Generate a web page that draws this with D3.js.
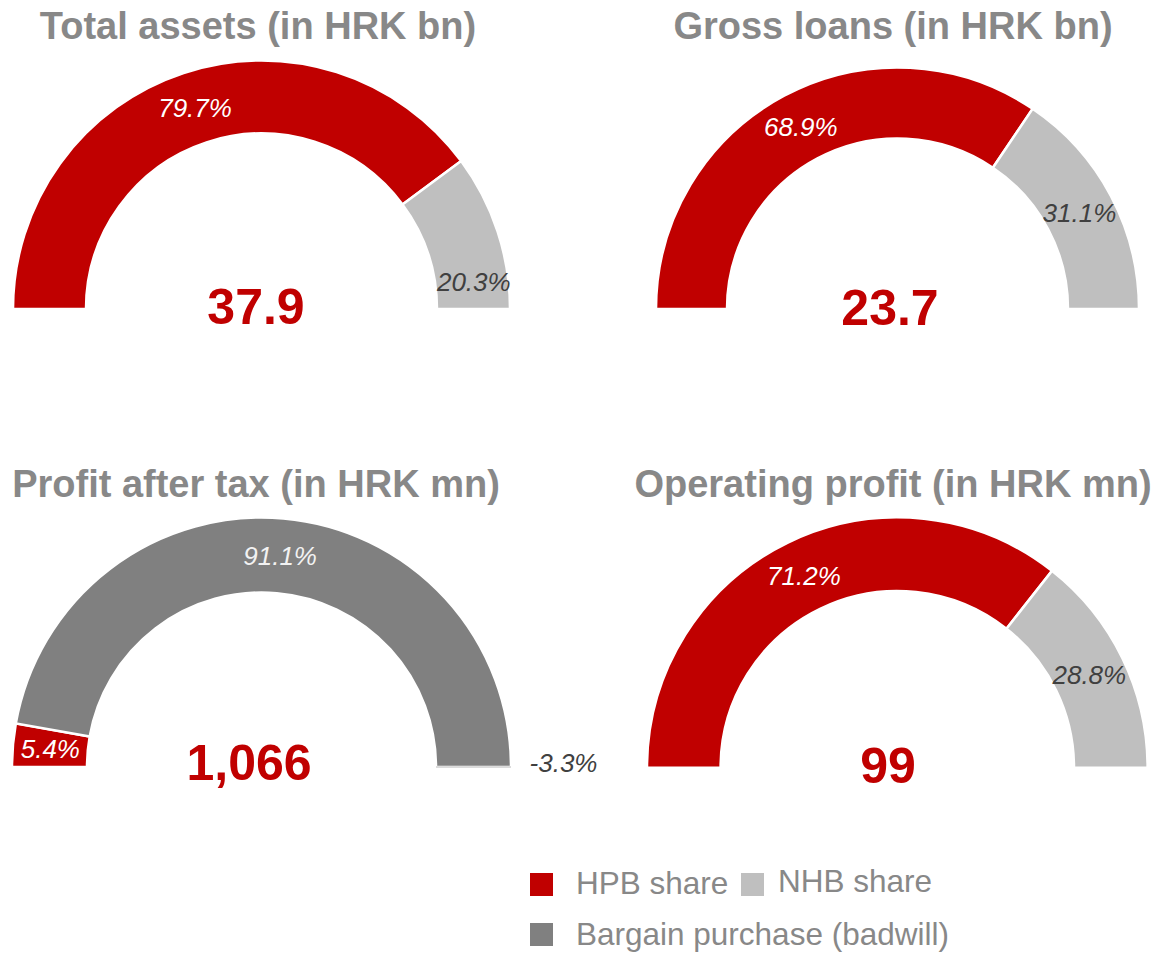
<!DOCTYPE html>
<html>
<head>
<meta charset="utf-8">
<script src="https://cdn.jsdelivr.net/npm/d3@7"></script>
<style>
  body { margin: 0; background: #fff; }
  svg text { font-family: "Liberation Sans", Arial, sans-serif; }
</style>
</head>
<body>
<svg id="chart" width="1176" height="953"></svg>
<script>
// --- data ---
var titles = ["Total assets (in HRK bn)", "Gross loans (in HRK bn)",
              "Profit after tax (in HRK mn)", "Operating profit (in HRK mn)"];
var totals = ["37.9", "23.7", "1,066", "99"];
var assetsKeys = ["HPB", "NHB"];
var assetsShares = [79.7, 20.3];
var loansKeys = ["HPB", "NHB"];
var loansShares = [68.9, 31.1];
var profitKeys = ["HPB", "BADWILL", "NHB"];
var profitShares = [5.4, 91.1, -3.3];
var opKeys = ["HPB", "NHB"];
var opShares = [71.2, 28.8];
var legendKeys = ["HPB", "NHB", "BADWILL"];
var legendLabels = ["HPB share", "NHB share", "Bargain purchase (badwill)"];

// --- look ---
var fill = {HPB: "#c00000", NHB: "#bfbfbf", BADWILL: "#808080"};
var labelFill = {HPB: "#ffffff", NHB: "#404040", BADWILL: "#f2f2f2"};
var grey = "#888888";

// where each gauge sits (cx, base line, radii, title / total positions)
var panels = [
  {keys: assetsKeys, vals: assetsShares, cx: 261.5, cy: 309, r: 247.5, ir: 176.5, tx: 258, ty: 39, vx: 256, vy: 324},
  {keys: loansKeys, vals: loansShares, cx: 897.5, cy: 309, r: 240.5, ir: 171.5, tx: 893, ty: 39, vx: 890, vy: 325},
  {keys: profitKeys, vals: profitShares, cx: 261.5, cy: 767, r: 248.5, ir: 175.5, tx: 256, ty: 497, vx: 249, vy: 780},
  {keys: opKeys, vals: opShares, cx: 897.3, cy: 767.7, r: 249.3, ir: 177.7, tx: 893, ty: 497, vx: 888, vy: 783}
];
// hand-moved labels, as in the original slide ("panel-slice": [dx, dy])
var nudge = {"0-1": [11, 39], "2-2": [90, -4]};

var svg = d3.select("#chart");

var pie = d3.pie().sort(null)
    .value(function(d){ return Math.max(0, d.v); })
    .startAngle(-Math.PI/2).endAngle(Math.PI/2);

panels.forEach(function(p, pi){
  var g = svg.append("g").attr("transform", "translate(" + p.cx + "," + p.cy + ")");
  var arc = d3.arc().innerRadius(p.ir - 1).outerRadius(p.r + 1);
  var lab = d3.arc().innerRadius(p.ir).outerRadius(p.r);
  var slices = pie(p.vals.map(function(v, k){ return {v: v, key: p.keys[k]}; }));

  g.selectAll("path").data(slices).enter().append("path")
    .attr("d", arc)
    .attr("fill", function(d){ return fill[d.data.key]; })
    .attr("stroke", function(d){ return d.data.v < 0 ? "#d0d0d0" : "#ffffff"; })
    .attr("stroke-width", function(d){ return d.data.v < 0 ? 1 : 2.5; });

  g.selectAll("text.lbl").data(slices).enter().append("text")
    .attr("class", "lbl")
    .attr("transform", function(d, k){
      var c = lab.centroid(d), n = nudge[pi + "-" + k] || [0, 0];
      return "translate(" + (c[0] + n[0]) + "," + (c[1] + n[1]) + ")";
    })
    .attr("text-anchor", "middle").attr("dy", "0.36em")
    .style("font-size", "26px").style("font-style", "italic")
    .attr("fill", function(d){ return d.data.v < 0 ? "#404040" : labelFill[d.data.key]; })
    .text(function(d){ return d.data.v.toFixed(1) + "%"; });

  svg.append("text").attr("x", p.tx).attr("y", p.ty)
    .attr("text-anchor", "middle")
    .style("font-size", "38px").style("font-weight", "bold")
    .attr("fill", grey).text(titles[pi]);

  svg.append("text").attr("x", p.vx).attr("y", p.vy)
    .attr("text-anchor", "middle")
    .style("font-size", "50px").style("font-weight", "bold")
    .attr("fill", "#c00000").text(totals[pi]);
});

// legend
var legPos = [[530, 873, 576, 894], [741, 873, 778, 892], [530, 923, 576, 945]];
var leg = svg.append("g").selectAll("g").data(legendKeys).enter().append("g");
leg.append("rect")
  .attr("x", function(d, k){ return legPos[k][0]; })
  .attr("y", function(d, k){ return legPos[k][1]; })
  .attr("width", 23).attr("height", 23)
  .attr("fill", function(d){ return fill[d]; });
leg.append("text")
  .attr("x", function(d, k){ return legPos[k][2]; })
  .attr("y", function(d, k){ return legPos[k][3]; })
  .style("font-size", "31.5px").attr("fill", grey)
  .text(function(d, k){ return legendLabels[k]; });
</script>
</body>
</html>
